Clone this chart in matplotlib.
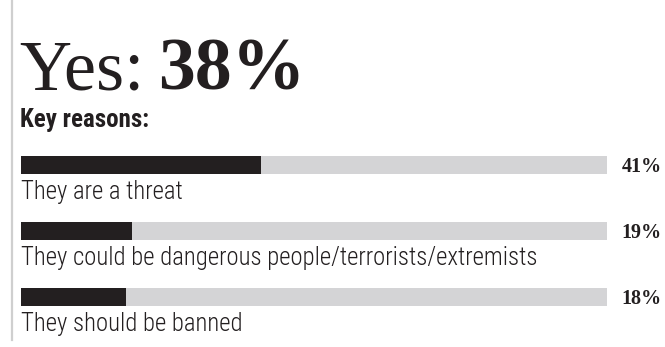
import matplotlib.pyplot as plt

# Data
reasons = ["They are a threat",
           "They could be dangerous people/terrorists/extremists",
           "They should be banned"]
shares = [41, 19, 18]
headline_label = "Yes:"
headline_value = "38%"
subtitle = "Key reasons:"

ink = "#231f20"

fig = plt.figure(figsize=(6.65, 3.47), dpi=100)

# axes spanning the whole height; x 0..100 maps onto the grey track
ax = fig.add_axes([21 / 665, 0, 586 / 665, 1])
ax.set_xlim(0, 100)
ax.set_ylim(347, 0)
ax.axis("off")

row_y = [165, 231, 297]
bar_h = 18

ax.barh(row_y, [100] * len(shares), height=bar_h, color="#d4d4d6", left=0)
ax.barh(row_y, shares, height=bar_h, color=ink, left=0)

for y, label, v in zip(row_y, reasons, shares):
    ax.text(0, y + 34, label, fontsize=17.8, family="Roboto Condensed",
            fontweight="light", color=ink, va="baseline", ha="left")
    ax.text(102.5, y + 7, f"{v}%", fontsize=14.5, family="Liberation Serif",
            fontweight="bold", color=ink, va="baseline", ha="left",
            clip_on=False)

# left rule
fig.add_artist(plt.Line2D([12 / 665, 12 / 665], [1, 7 / 347],
                          color="#cfcfcf", lw=1.6))

# headline
t1 = fig.text(19 / 665, 1 - 90 / 347, headline_label, fontsize=52,
              family="Liberation Serif", color=ink, va="baseline")
fig.canvas.draw()
bb = t1.get_window_extent()
fig.text((bb.x1 + 14) / 665, 1 - 90 / 347, headline_value, fontsize=53,
         family="Liberation Serif", fontweight="bold", color=ink,
         va="baseline")

fig.text(20 / 665, 1 - 127 / 347, subtitle, fontsize=18,
         family="Roboto Condensed", fontweight="bold", color=ink,
         va="baseline")

fig.savefig("out.png", dpi=100)
